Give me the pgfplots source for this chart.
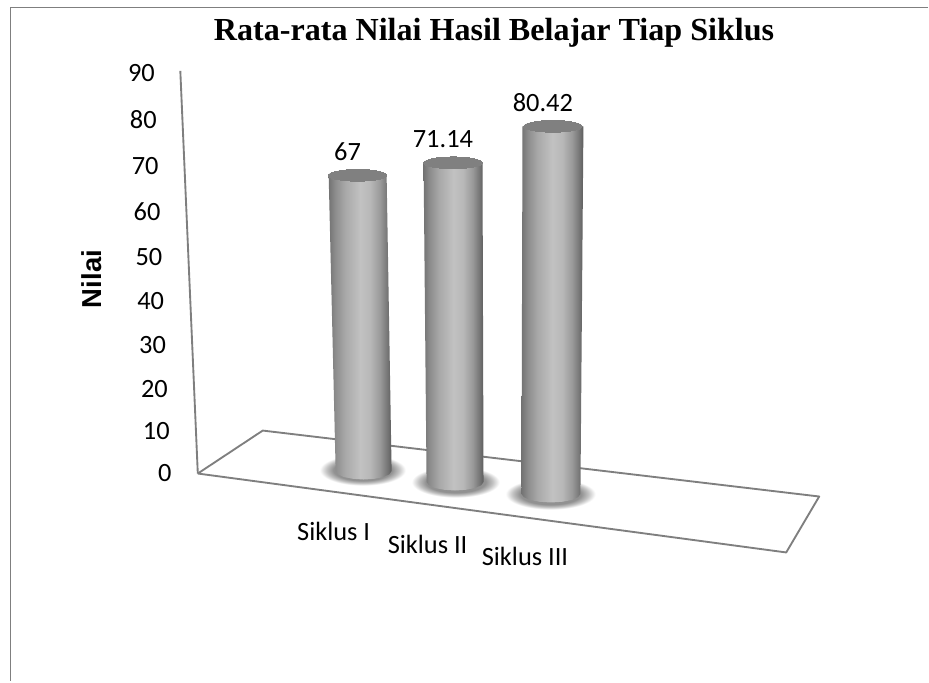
\documentclass[border=0pt]{standalone}
\usepackage{fontspec}
\setmainfont{Carlito}
\newfontfamily\titlefont{Liberation Serif}
\newfontfamily\labelfont{Liberation Sans}
\usepackage{pgfplots}
\usepackage{pgfplotstable}
\pgfplotsset{compat=1.18}
\pgfdeclarehorizontalshading{cyl}{100bp}{
  rgb(0bp)=(0.45,0.45,0.45);
  rgb(25bp)=(0.45,0.45,0.45);
  rgb(30bp)=(0.55,0.55,0.55);
  rgb(38bp)=(0.66,0.66,0.66);
  rgb(50bp)=(0.76,0.76,0.76);
  rgb(58bp)=(0.72,0.72,0.72);
  rgb(66bp)=(0.60,0.60,0.60);
  rgb(72bp)=(0.45,0.45,0.45);
  rgb(75bp)=(0.36,0.36,0.36);
  rgb(100bp)=(0.36,0.36,0.36)}
\pgfdeclareradialshading{shadowblur}{\pgfpointorigin}{
  rgb(0bp)=(0.55,0.55,0.55);
  rgb(17bp)=(0.57,0.57,0.57);
  rgb(21bp)=(0.76,0.76,0.76);
  rgb(25bp)=(1,1,1);
  rgb(50bp)=(1,1,1)}
\definecolor{linegray}{HTML}{7F7F7F}
\definecolor{topgray}{HTML}{808080}
% bar bodies, in picture units (px, py)
\pgfplotstableread{
px py
329 175.5
387 175.5
392 471.5
389.8 474.7
383.9 477.5
374.6 479.3
364 480
353.4 479.3
344.1 477.5
338.2 474.7
336 471.5
}\bodyA
\pgfplotstableread{
px py
424 163
483 163
484 482.5
481.7 485.7
475.7 488.5
466.3 490.3
455.5 491
444.7 490.3
435.3 488.5
429.3 485.7
427 482.5
}\bodyB
\pgfplotstableread{
px py
523 126.5
584 126.5
581 494.5
578.6 497.7
572.4 500.5
562.7 502.3
551.5 503
540.3 502.3
530.6 500.5
524.4 497.7
522 494.5
}\bodyC
% the values: centre of the cylinder, value, offset of its depth in the picture
\pgfplotstableread{
cx nilai geser
358 67 -0.06
453.5 71.14 -1.39
553.5 80.42 -2.49
}\nilaitable
\begin{document}
\begin{tikzpicture}
\begin{axis}[
  x=0.75pt, y=3.34425pt,
  xmin=172, xmax=820, ymin=0, ymax=90,
  clip=false,
  axis x line=bottom, axis y line=left,
  axis line style={draw=none},
  major tick length=0pt,
  ytick={0,10,...,90},
  xtick={334,428,525.5},
  xticklabels={Siklus I,Siklus II,Siklus III},
  /pgf/number format/assume math mode=true,
  tick label style={font=\fontsize{19.8}{22}\selectfont},
  yticklabel style={anchor=east, inner xsep=0pt,
     xshift={-\ticknum*1.4pt}, yshift={-0.225pt*\ticknum*(9-\ticknum)}},
  xticklabel style={anchor=center, inner ysep=0pt,
     yshift={-(43.5+\ticknum*9.375)*1pt}},
  title={\titlefont\bfseries Rata-rata Nilai Hasil Belajar Tiap Siklus},
  title style={font=\fontsize{24.1}{27}\selectfont, at={(rel axis cs:0.4977,1.079)}, anchor=center},
  ylabel={\labelfont\bfseries Nilai},
  ylabel style={font=\fontsize{20.6}{23}\selectfont, at={(rel axis cs:-0.124,0.485)}, anchor=center},
]
% picture extent and frame
\addplot[draw=none, forget plot] table[x=px, y expr=(474-\thisrow{py})/4.459] {
px py
0 682
929 0
};
\addplot[color=linegray, line width=1.4pt, forget plot] table[x=px, y expr=(474-\thisrow{py})/4.459] {
px py
929 7.5
10.5 7.5
10.5 682
};
% y wall line and floor
\addplot[color=linegray, line width=1.4pt, forget plot] table[x=px, y expr=(474-\thisrow{py})/4.459] {
px py
180.5 71
198 474
};
\addplot[color=linegray, line width=1.4pt, line join=round, forget plot] table[x=px, y expr=(474-\thisrow{py})/4.459] {
px py
198 474
263 431
820 497
787 553
198 474
};
% shadows
\addplot[draw=none, shade, shading=shadowblur, forget plot] table[x=px, y expr=(474-\thisrow{py})/4.459] {
px py
320 455
406 455
406 486
320 486
};
\addplot[draw=none, shade, shading=shadowblur, forget plot] table[x=px, y expr=(474-\thisrow{py})/4.459] {
px py
412 467
500 467
500 498
412 498
};
\addplot[draw=none, shade, shading=shadowblur, forget plot] table[x=px, y expr=(474-\thisrow{py})/4.459] {
px py
506 479
596 479
596 510
506 510
};
% bodies
\addplot[draw=none, shade, shading=cyl, forget plot] table[x=px, y expr=(474-\thisrow{py})/4.459] {\bodyA};
\addplot[draw=none, shade, shading=cyl, forget plot] table[x=px, y expr=(474-\thisrow{py})/4.459] {\bodyB};
\addplot[draw=none, shade, shading=cyl, forget plot] table[x=px, y expr=(474-\thisrow{py})/4.459] {\bodyC};
% tops with the values
\addplot[only marks, mark=*, mark size=22pt,
  mark options={yscale=0.2, fill=topgray, draw=topgray, line width=0pt},
  point meta=explicit symbolic,
  nodes near coords,
  every node near coord/.append style={anchor=center, xshift=-7.6pt, yshift=18pt,
     font=\fontsize{19.8}{22}\selectfont, color=black},
  forget plot]
  table[x=cx, y expr=\thisrow{nilai}+\thisrow{geser}, meta=nilai] {\nilaitable};
\end{axis}
\end{tikzpicture}
\end{document}
